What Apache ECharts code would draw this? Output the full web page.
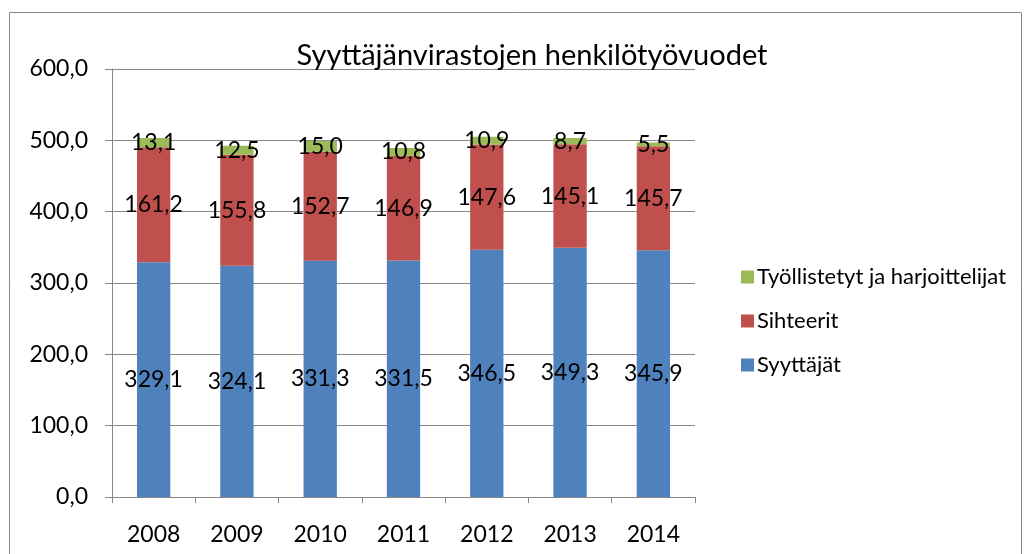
<!DOCTYPE html>
<html>
<head>
<meta charset="utf-8">
<script src="https://cdn.jsdelivr.net/npm/echarts@6/dist/echarts.min.js"></script>
<style>
  html, body { margin: 0; padding: 0; background: #fff; }
  #chart { width: 1031px; height: 554px; }
</style>
</head>
<body>
<div id="chart"></div>
<script>
const years = ['2008', '2009', '2010', '2011', '2012', '2013', '2014']
const syyttajat = [329.1, 324.1, 331.3, 331.5, 346.5, 349.3, 345.9]
const sihteerit = [161.2, 155.8, 152.7, 146.9, 147.6, 145.1, 145.7]
const tyollistetyt = [13.1, 12.5, 15.0, 10.8, 10.9, 8.7, 5.5]
const seriesNames = ['Syyttäjät', 'Sihteerit', 'Työllistetyt ja harjoittelijat']
const colors = ['#4F81BD', '#C0504D', '#9BBB59']

const font = 'Lato, "Open Sans", sans-serif'
const fmt = v => v.toFixed(1).replace('.', ',')

const chart = echarts.init(document.getElementById('chart'))

chart.setOption({
  animation: false,
  textStyle: { fontFamily: font },
  title: {
    text: 'Syyttäjänvirastojen henkilötyövuodet',
    left: 527,
    top: 36,
    textAlign: 'center',
    textStyle: { fontSize: 29, fontWeight: 'normal', color: '#000', fontFamily: font },
  },
  graphic: [
    {
      type: 'rect',
      shape: { x: 9.5, y: 12.5, width: 1012, height: 560 },
      style: { fill: 'none', stroke: '#878787', lineWidth: 1 },
      silent: true,
    },
  ],
  grid: { left: 112, right: 336, top: 69, bottom: 57 },
  legend: {
    orient: 'vertical',
    left: 736,
    top: 261,
    itemWidth: 13,
    itemHeight: 13,
    itemGap: 22,
    icon: 'rect',
    data: [seriesNames[2], seriesNames[1], seriesNames[0]],
    textStyle: { fontSize: 22, color: '#000', fontFamily: font, padding: [0, 0, 0, -2] },
  },
  xAxis: {
    type: 'category',
    data: years,
    axisLine: { lineStyle: { color: '#878787', width: 1 } },
    axisTick: { show: true, length: 6, lineStyle: { color: '#878787' } },
    axisLabel: { fontSize: 23, color: '#000', margin: 26, fontFamily: font },
  },
  yAxis: {
    type: 'value',
    min: 0,
    max: 600,
    interval: 100,
    axisLine: { show: true, lineStyle: { color: '#878787', width: 1 } },
    axisTick: { show: true, length: 7, lineStyle: { color: '#878787' } },
    axisLabel: { fontSize: 23, color: '#000', margin: 24, formatter: v => fmt(v), fontFamily: font },
    splitLine: { lineStyle: { color: '#878787', width: 1 } },
  },
  series: [syyttajat, sihteerit, tyollistetyt].map((data, i) => ({
    name: seriesNames[i],
    type: 'bar',
    stack: 'total',
    barWidth: '40%',
    itemStyle: { color: colors[i] },
    label: {
      show: true,
      position: 'inside',
      color: '#000',
      fontSize: 23,
      fontFamily: font,
      formatter: p => fmt(p.value),
    },
    data,
  })),
})
</script>
</body>
</html>
